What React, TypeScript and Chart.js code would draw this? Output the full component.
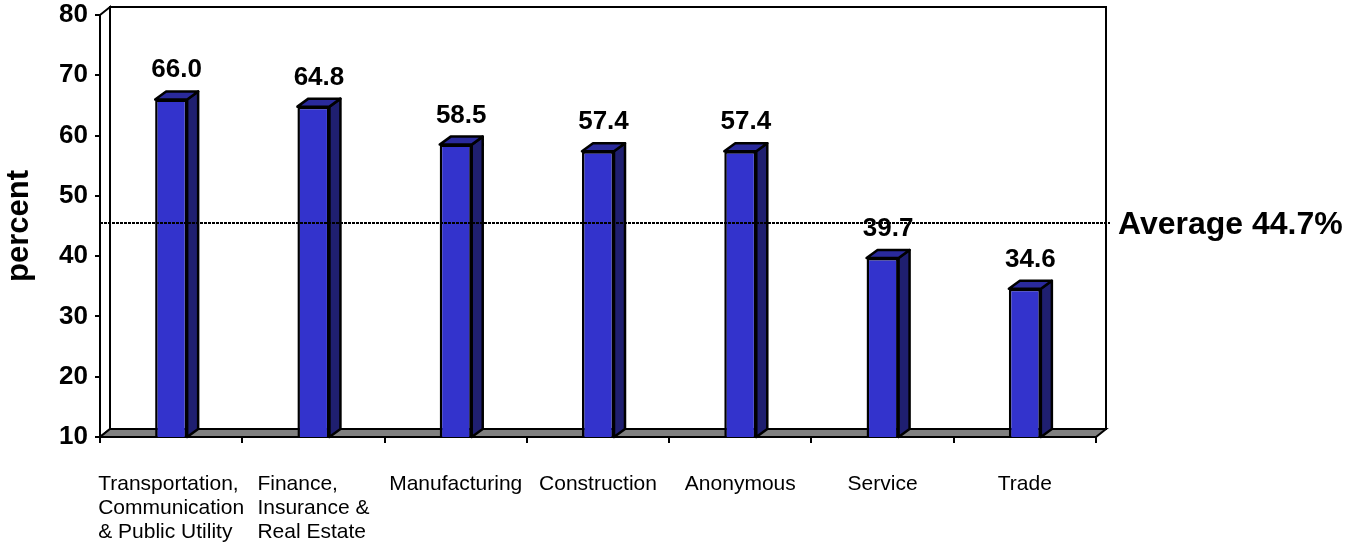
import React, { useEffect, useRef } from "react";
import { Chart, registerables } from "chart.js";

Chart.register(...registerables);

const categoryLines: string[][] = [
  ["Transportation,", "Communication", "& Public Utility"],
  ["Finance,", "Insurance &", "Real Estate"],
  ["Manufacturing"],
  ["Construction"],
  ["Anonymous"],
  ["Service"],
  ["Trade"],
];
const values: number[] = [66.0, 64.8, 58.5, 57.4, 57.4, 39.7, 34.6];
const averageValue = 44.7;
const averageLabel = "Average 44.7%";
const yMin = 10;
const yMax = 80;
const yStep = 10;
const yTitle = "percent";

const FONT = "Arial, 'Liberation Sans', sans-serif";
const FRONT = "#3333CC";
const TOP = "#2A2A9C";
const SIDE = "#1F1F70";
const FLOOR = "#808080";

const WALL_DX = 10;
const WALL_DY = -8;
const BAR_DX = 11;
const BAR_DY = -8;

function poly(ctx: CanvasRenderingContext2D, pts: number[][], fill: string) {
  ctx.beginPath();
  ctx.moveTo(pts[0][0], pts[0][1]);
  for (let i = 1; i < pts.length; i++) ctx.lineTo(pts[i][0], pts[i][1]);
  ctx.closePath();
  ctx.fillStyle = fill;
  ctx.fill();
  ctx.stroke();
}

const threeDPlugin = {
  id: "threeD",
  beforeDatasetsDraw(chart: any) {
    const { ctx, chartArea } = chart;
    const { left, right, top, bottom } = chartArea;
    ctx.save();
    ctx.lineWidth = 2;
    ctx.strokeStyle = "#000";
    ctx.lineJoin = "miter";
    poly(
      ctx,
      [
        [left + WALL_DX, top + WALL_DY],
        [right + WALL_DX, top + WALL_DY],
        [right + WALL_DX, bottom + WALL_DY],
        [left + WALL_DX, bottom + WALL_DY],
      ],
      "#ffffff"
    );
    poly(
      ctx,
      [
        [left, top],
        [left + WALL_DX, top + WALL_DY],
        [left + WALL_DX, bottom + WALL_DY],
        [left, bottom],
      ],
      "#ffffff"
    );
    poly(
      ctx,
      [
        [left, bottom],
        [right, bottom],
        [right + WALL_DX, bottom + WALL_DY],
        [left + WALL_DX, bottom + WALL_DY],
      ],
      FLOOR
    );
    ctx.restore();
  },
  afterDatasetsDraw(chart: any) {
    const { ctx, chartArea, scales } = chart;
    const meta = chart.getDatasetMeta(0);
    ctx.save();
    ctx.lineWidth = 2.5;
    ctx.strokeStyle = "#000";
    ctx.lineJoin = "round";
    meta.data.forEach((el: any, i: number) => {
      const props = el.getProps(["x", "y", "base", "width"], true);
      const x = props.x;
      const y = props.y;
      const width = props.width;
      const base = Math.min(props.base, chartArea.bottom);
      const l = x - width / 2;
      const r = x + width / 2;
      poly(
        ctx,
        [
          [r, y],
          [r + BAR_DX, y + BAR_DY],
          [r + BAR_DX, base + BAR_DY],
          [r, base],
        ],
        SIDE
      );
      poly(
        ctx,
        [
          [l, y],
          [l + BAR_DX, y + BAR_DY],
          [r + BAR_DX, y + BAR_DY],
          [r, y],
        ],
        TOP
      );
      ctx.fillStyle = "#000";
      ctx.font = `bold 26px ${FONT}`;
      ctx.textAlign = "center";
      ctx.textBaseline = "alphabetic";
      ctx.fillText(values[i].toFixed(1), x + BAR_DX / 2, y - 22);
    });

    // average line
    const ay = scales.y.getPixelForValue(averageValue) + WALL_DY * 0.6;
    ctx.beginPath();
    ctx.setLineDash([3, 1]);
    ctx.lineWidth = 2;
    ctx.moveTo(chartArea.left, ay);
    ctx.lineTo(chartArea.right + WALL_DX + 4, ay);
    ctx.stroke();
    ctx.setLineDash([]);
    ctx.fillStyle = "#000";
    ctx.font = `bold 32px ${FONT}`;
    ctx.textAlign = "left";
    ctx.textBaseline = "alphabetic";
    ctx.fillText(averageLabel, chartArea.right + WALL_DX + 12, ay + 11);

    // category labels
    ctx.font = `21px ${FONT}`;
    ctx.textAlign = "left";
    categoryLines.forEach((lines, i) => {
      const cx = scales.x.getPixelForValue(i);
      const maxW = Math.max(...lines.map((s) => ctx.measureText(s).width));
      lines.forEach((s, j) => {
        ctx.fillText(s, cx - maxW / 2, chartArea.bottom + 53 + j * 24);
      });
    });
    ctx.restore();
  },
};

export default function App() {
  const canvasRef = useRef<HTMLCanvasElement | null>(null);

  useEffect(() => {
    const canvas = canvasRef.current;
    if (!canvas) return;
    const chart = new Chart(canvas, {
      type: "bar",
      data: {
        labels: categoryLines.map((c) => c.join(" ")),
        datasets: [
          {
            data: values,
            backgroundColor: FRONT,
            borderColor: "#000",
            borderWidth: 2.5,
            borderSkipped: "start",
            barPercentage: 0.225,
            categoryPercentage: 1,
          },
        ],
      },
      options: {
        responsive: false,
        animation: false,
        events: [],
        layout: { padding: { left: 0, right: 254, top: 15, bottom: 0 } },
        plugins: {
          legend: { display: false },
          tooltip: { enabled: false },
        },
        scales: {
          x: {
            offset: true,
            grid: {
              display: true,
              offset: true,
              drawOnChartArea: false,
              drawTicks: true,
              tickLength: 6,
              color: "#000",
              lineWidth: 2,
            },
            border: { display: true, color: "#000", width: 2 },
            ticks: { display: false },
            afterFit: (scale: any) => {
              scale.height = 108;
              scale.paddingLeft = 0;
              scale.paddingRight = 0;
            },
          },
          y: {
            min: yMin,
            max: yMax,
            ticks: {
              stepSize: yStep,
              color: "#000",
              padding: 7,
              font: { family: FONT, size: 26, weight: "bold" },
            },
            grid: {
              display: true,
              drawOnChartArea: false,
              drawTicks: true,
              tickLength: 5,
              color: "#000",
              lineWidth: 2,
            },
            border: { display: true, color: "#000", width: 2 },
            title: {
              display: true,
              text: yTitle,
              color: "#000",
              padding: 1,
              font: { family: FONT, size: 31, weight: "bold" },
            },
            afterFit: (scale: any) => {
              scale.width = 100;
              scale.paddingTop = 0;
              scale.paddingBottom = 0;
            },
          },
        },
      },
      plugins: [threeDPlugin],
    });
    return () => chart.destroy();
  }, []);

  return (
    <div style={{ position: "absolute", left: 0, top: 0, width: 1350, height: 545, background: "#fff" }}>
      <canvas ref={canvasRef} width={1350} height={545} />
    </div>
  );
}
